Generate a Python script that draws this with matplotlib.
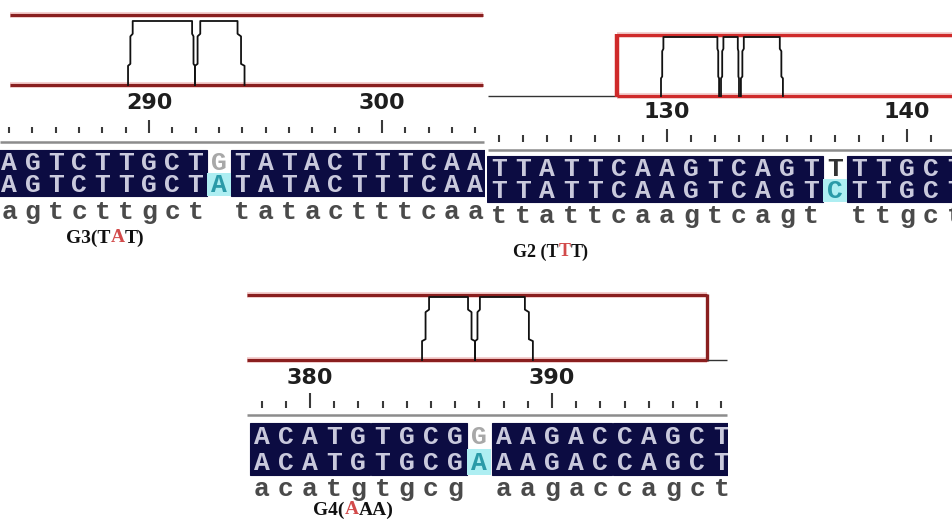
import numpy as np
import matplotlib
matplotlib.use('Agg')
import matplotlib.pyplot as plt

W, H = 953, 522

# --- data ---
g3_ref = "AGTCTTGCTGTATACTTTCAA"
g3_alt = "AGTCTTGCTATATACTTTCAA"
g3_cons = "agtcttgct tatactttcaa"
g3_start = 284
g3_ticks = [290, 300]
# peak outline: bottom-left, top-left, top-right, bottom-right (base position)
g3_peaks = [(289.1, 289.3, 291.85, 291.97), (291.97, 292.2, 293.8, 294.1)]
g3_label = ["G3(T", "A", "T)"]

g2_ref = "TTATTCAAGTCAGTTTTGCT"
g2_alt = "TTATTCAAGTCAGTCTTGCT"
g2_cons = "ttattcaagtcagt ttgct"
g2_start = 123
g2_ticks = [130, 140]
g2_peaks = [(129.75, 129.85, 132.1, 132.17), (132.25, 132.35, 132.95, 133.0),
            (133.08, 133.2, 134.7, 134.83)]
g2_label = ["G2 (T", "T", "T)"]

g4_ref = "ACATGTGCGGAAGACCAGCT"
g4_alt = "ACATGTGCGAAAGACCAGCT"
g4_cons = "acatgtgcg aagaccagct"
g4_start = 378
g4_ticks = [380, 390]
g4_peaks = [(384.63, 384.92, 386.53, 386.82), (386.82, 387.02, 388.88, 389.21)]
g4_label = ["G4(", "A", "AA)"]

NAVY = '#0c0c42'
CYAN = '#aeeef2'
RED_TXT = '#d24a4a'

fig = plt.figure(figsize=(W / 100, H / 100), dpi=100)
bg = fig.add_axes([0, 0, 1, 1])
bg.set_xlim(0, W)
bg.set_ylim(H, 0)
bg.axis('off')


def red_line(xs, ys, col):
    bg.plot(xs, ys, color='#f0c4c4', lw=4.0, solid_capstyle='butt')
    bg.plot(xs, ys, color=col, lw=2.2, solid_capstyle='butt')


def rich_label(x, y, parts, size):
    r = fig.canvas.get_renderer()
    for i, s in enumerate(parts):
        t = bg.text(x, y, s, color=RED_TXT if i == 1 else '#111111',
                    family='Liberation Serif', weight='bold', fontsize=size,
                    va='center', ha='left')
        bb = t.get_window_extent(r)
        x = bg.transData.inverted().transform((bb.x1, bb.y0))[0]


def draw_panel(ref, alt, cons, start, ticks, peaks, lay):
    L, R = lay['x']
    xt, w = lay['tick_px'], lay['col_w']
    p0 = ticks[0]
    ax = fig.add_axes([L / W, 0, (R - L) / W, 1])
    ax.set_xlim(p0 + (L - xt) / w, p0 + (R - xt) / w)
    ax.set_ylim(H, 0)
    ax.axis('off')

    pos = np.arange(start, start + len(ref))
    same = np.array([a == b for a, b in zip(ref, alt)])
    r1, r2, r3 = lay['rows']
    ax.bar(pos[same], r3 - r1, bottom=r1, width=1, color=NAVY,
           edgecolor=NAVY, linewidth=0.8)
    ax.bar(pos[~same], r3 - r2, bottom=r2, width=1, color=CYAN, linewidth=0)

    fs = lay['fs']
    for p, a, b, c, s in zip(pos, ref, alt, cons, same):
        ax.text(p, (r1 + r2) / 2 + 1, a, ha='center', va='center', fontsize=fs,
                family='Liberation Mono', weight='bold', clip_on=True,
                color='#c9c9dc' if s else lay['mis_col'])
        ax.text(p, (r2 + r3) / 2 + 1, b, ha='center', va='center', fontsize=fs,
                family='Liberation Mono', weight='bold', clip_on=True,
                color='#c9c9dc' if s else '#2a9aa8')
        ax.text(p, lay['cons_y'], c, ha='center', va='center', fontsize=fs,
                family='Liberation Mono', weight='bold', clip_on=True, color='#4a4a4a')

    # ruler
    lo, hi = ax.get_xlim()
    tk = np.arange(int(np.ceil(lo)), int(np.floor(hi)) + 1)
    major = tk % 10 == 0
    tb = lay['tick_bot']
    ax.vlines(tk[~major], lay['minor_top'], tb, color='#3a3a3a', lw=1.5)
    ax.vlines(tk[major], lay['major_top'], tb, color='#3a3a3a', lw=1.5)
    for t in ticks:
        ax.text(t, lay['num_y'], str(t), ha='center', va='center', fontsize=16,
                family='DejaVu Sans', weight='bold', color='#1e1e1e')

    # trace
    yb, yt = lay['trace']
    h = yb - yt
    for bl, tl, tr, br in peaks:
        ml, mr = (bl + tl) / 2, (tr + br) / 2
        xs = [bl, bl, ml, ml, tl, tl, tr, tr, mr, mr, br, br]
        fr = [0, 0.3, 0.33, 0.76, 0.8, 1, 1, 0.8, 0.76, 0.33, 0.3, 0]
        ax.plot(xs, [yb - f * h for f in fr], color='#111111', lw=1.3)
    return ax


# G3 (top left)
red_line([10, 483], [15, 15], '#8a1f1f')
red_line([10, 483], [85, 85], '#8a1f1f')
bg.hlines(142, 0, 484, color='#8c8c8c', lw=1.8)
draw_panel(g3_ref, g3_alt, g3_cons, g3_start, g3_ticks, g3_peaks,
           dict(x=(0, 485), tick_px=149, col_w=23.3, rows=(150, 173, 196),
                cons_y=212, tick_bot=133, minor_top=127, major_top=120,
                num_y=103, trace=(85, 21), fs=19, mis_col='#a8a8a8'))
rich_label(66, 238, g3_label, 14)

# G2 (top right)
bg.hlines(96, 488, 617, color='#333333', lw=1.0)
red_line([617, 953], [35, 35], '#cf2a2a')
red_line([617, 953], [96, 96], '#cf2a2a')
bg.vlines(617, 34, 97, color='#cf2a2a', lw=3.2)
bg.hlines(150, 488, 953, color='#8c8c8c', lw=1.8)
draw_panel(g2_ref, g2_alt, g2_cons, g2_start, g2_ticks, g2_peaks,
           dict(x=(487, 953), tick_px=667, col_w=24.0, rows=(156, 179, 202),
                cons_y=216, tick_bot=142, minor_top=135, major_top=129,
                num_y=112, trace=(96, 37), fs=19, mis_col='#333333'))
rich_label(513, 252, g2_label, 13)

# G4 (bottom)
red_line([247, 707], [295, 295], '#8a1f1f')
red_line([247, 707], [360, 360], '#8a1f1f')
bg.vlines(707, 294, 361, color='#8a1f1f', lw=2.4)
bg.hlines(360, 707, 727, color='#333333', lw=1.0)
bg.hlines(415, 247, 727, color='#8c8c8c', lw=1.8)
draw_panel(g4_ref, g4_alt, g4_cons, g4_start, g4_ticks, g4_peaks,
           dict(x=(247, 728), tick_px=310, col_w=24.2, rows=(423, 449, 475),
                cons_y=489, tick_bot=408, minor_top=401, major_top=393,
                num_y=378, trace=(360, 297), fs=19, mis_col='#a8a8a8'))
rich_label(313, 510, g4_label, 14)

fig.savefig('out.png', dpi=100, facecolor='white')
